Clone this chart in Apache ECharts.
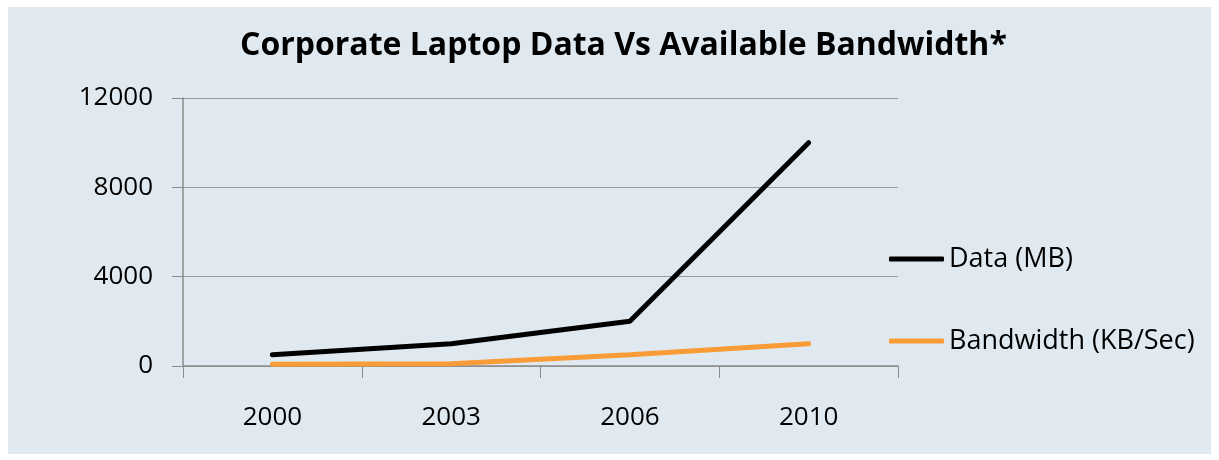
<!DOCTYPE html>
<html>
<head>
<meta charset="utf-8">
<script src="https://cdn.jsdelivr.net/npm/echarts@6/dist/echarts.min.js"></script>
<style>
  html, body { margin: 0; padding: 0; background: #ffffff; }
  #main { position: absolute; left: 8px; top: 7px; width: 1203px; height: 447px; background: #dfe9ef; }
</style>
</head>
<body>
<div id="main"></div>
<script>
  // 数据
  const years = ['2000', '2003', '2006', '2010'];
  const dataMB = [500, 1000, 2000, 10000];
  const bandwidthKB = [80, 100, 500, 1000];
  const yTicks = { min: 0, max: 12000, interval: 4000 };

  const chart = echarts.init(document.getElementById('main'));
  const font = 'Open Sans, Liberation Sans, sans-serif';

  const option = {
    backgroundColor: '#dfe9ef',
    textStyle: { fontFamily: font },
    title: {
      text: 'Corporate Laptop Data Vs Available Bandwidth*',
      left: 232,
      top: 23,
      padding: 0,
      textStyle: { fontSize: 32, fontWeight: 'bold', color: '#000', fontFamily: font }
    },
    legend: {
      orient: 'vertical',
      left: 881,
      top: 237,
      padding: 0,
      icon: 'roundRect',
      itemWidth: 55,
      itemHeight: 5,
      itemGap: 52,
      textStyle: { fontSize: 27, lineHeight: 30, color: '#000', fontFamily: font },
      data: ['Data (MB)', 'Bandwidth (KB/Sec)']
    },
    grid: { left: 175, top: 91, width: 715, height: 268 },
    xAxis: {
      type: 'category',
      data: years,
      boundaryGap: true,
      axisLine: { lineStyle: { color: '#8c8c8c', width: 1.5 } },
      axisTick: { show: true, length: 12, lineStyle: { color: '#8c8c8c' } },
      axisLabel: { fontSize: 26, color: '#000', margin: 39 }
    },
    yAxis: {
      type: 'value',
      min: yTicks.min,
      max: yTicks.max,
      interval: yTicks.interval,
      axisLine: { show: true, lineStyle: { color: '#8c8c8c', width: 1.5 } },
      axisTick: { show: true, length: 11, lineStyle: { color: '#8c8c8c' } },
      axisLabel: { fontSize: 26, color: '#000', margin: 30, formatter: v => String(v) },
      splitLine: { lineStyle: { color: '#9a9a9a', width: 1.2 } }
    },
    series: [
      {
        name: 'Data (MB)',
        type: 'line',
        data: dataMB,
        symbol: 'none',
        color: '#000000',
        lineStyle: { width: 5, color: '#000000', cap: 'round' }
      },
      {
        name: 'Bandwidth (KB/Sec)',
        type: 'line',
        data: bandwidthKB,
        symbol: 'none',
        color: '#f99b36',
        lineStyle: { width: 5, color: '#f99b36', cap: 'round' }
      }
    ]
  };

  chart.setOption(option);
</script>
</body>
</html>
